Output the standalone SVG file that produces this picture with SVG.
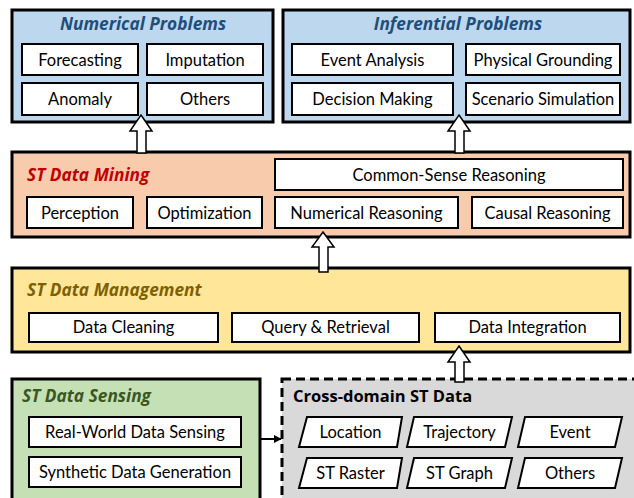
<svg xmlns="http://www.w3.org/2000/svg" width="634" height="498" viewBox="0 0 634 498">
<style>
.outer{stroke:#000;stroke-width:3}
.box{fill:#fff;stroke:#000;stroke-width:2}
.t{font-family:Lato,"Liberation Sans",sans-serif;font-size:16.5px;fill:#000;text-anchor:middle}
.h{font-family:"Open Sans","Liberation Sans",sans-serif;font-size:17.3px;font-weight:bold;font-style:italic}
.arr{fill:#fff;stroke:#000;stroke-width:1.5;stroke-linejoin:miter}
</style>
<defs>
<marker id="ah" viewBox="0 0 10 10" refX="9" refY="5" markerWidth="4" markerHeight="4" orient="auto"><path d="M0,0 L10,5 L0,10 z" fill="#000"/></marker>
</defs>
<rect width="634" height="498" fill="#fff"/>

<g id="numerical-problems">
<rect class="outer" x="12" y="10" width="261" height="112" fill="#BDD7EE"/>
<text class="h" x="143" y="30" fill="#1F4E79" text-anchor="middle">Numerical Problems</text>
<rect class="box" x="22" y="44" width="116" height="31"/><text class="t" x="80" y="65.5">Forecasting</text>
<rect class="box" x="147" y="44" width="116" height="31"/><text class="t" x="205" y="65.5">Imputation</text>
<rect class="box" x="22" y="83" width="116" height="32"/><text class="t" x="80" y="104.5">Anomaly</text>
<rect class="box" x="147" y="83" width="116" height="32"/><text class="t" x="205" y="104.5">Others</text>
</g>

<g id="inferential-problems">
<rect class="outer" x="283" y="10" width="347" height="112" fill="#BDD7EE"/>
<text class="h" x="458" y="30" fill="#1F4E79" text-anchor="middle">Inferential Problems</text>
<rect class="box" x="292" y="44" width="161" height="31"/><text class="t" x="372.5" y="65.5">Event Analysis</text>
<rect class="box" x="466" y="44" width="154" height="31"/><text class="t" x="543" y="65.5">Physical Grounding</text>
<rect class="box" x="292" y="83" width="161" height="32"/><text class="t" x="372.5" y="104.5">Decision Making</text>
<rect class="box" x="466" y="83" width="154" height="32"/><text class="t" x="543" y="104.5">Scenario Simulation</text>
</g>

<g id="st-data-mining">
<rect class="outer" x="12" y="152" width="618" height="85" fill="#F8CBAD"/>
<text class="h" x="27" y="181" fill="#C00000">ST Data Mining</text>
<rect class="box" x="275" y="159" width="348" height="31"/><text class="t" x="449" y="180.5">Common-Sense Reasoning</text>
<rect class="box" x="27" y="197" width="106" height="31"/><text class="t" x="80" y="218.5">Perception</text>
<rect class="box" x="147" y="197" width="115" height="31"/><text class="t" x="204.5" y="218.5">Optimization</text>
<rect class="box" x="275" y="197" width="183" height="31"/><text class="t" x="366.5" y="218.5">Numerical Reasoning</text>
<rect class="box" x="472" y="197" width="151" height="31"/><text class="t" x="547.5" y="218.5">Causal Reasoning</text>
</g>

<g id="st-data-management">
<rect class="outer" x="12" y="268" width="618" height="84" fill="#FFE699"/>
<text class="h" x="27" y="296" fill="#7F6000">ST Data Management</text>
<rect class="box" x="29" y="313" width="189" height="29"/><text class="t" x="123.5" y="333">Data Cleaning</text>
<rect class="box" x="232" y="313" width="187" height="29"/><text class="t" x="325.5" y="333">Query &amp; Retrieval</text>
<rect class="box" x="435" y="313" width="185" height="29"/><text class="t" x="527.5" y="333">Data Integration</text>
</g>

<g id="st-data-sensing">
<rect class="outer" x="12" y="379" width="248" height="125" fill="#C5E0B4"/>
<text class="h" x="22" y="402" fill="#385723">ST Data Sensing</text>
<rect class="box" x="29" y="417" width="212" height="30"/><text class="t" x="135" y="438">Real-World Data Sensing</text>
<rect class="box" x="29" y="457" width="212" height="30"/><text class="t" x="135" y="478">Synthetic Data Generation</text>
</g>

<g id="cross-domain-st-data">
<rect x="282" y="379" width="360" height="125" fill="#D9D9D9" stroke="#000" stroke-width="3" stroke-dasharray="9,5"/>
<text x="293" y="402" font-family="'Open Sans','Liberation Sans',sans-serif" font-size="16.5" font-weight="bold" fill="#000">Cross-domain ST Data</text>
<polygon class="box" points="307,417 402,417 397,447 299,447"/><text class="t" x="350.5" y="438">Location</text>
<polygon class="box" points="414,417 512,417 505,447 407,447"/><text class="t" x="459.5" y="438">Trajectory</text>
<polygon class="box" points="525,417 622,417 615,447 518,447"/><text class="t" x="570" y="438">Event</text>
<polygon class="box" points="307,458 402,458 397,488 299,488"/><text class="t" x="350.5" y="479">ST Raster</text>
<polygon class="box" points="414,458 512,458 505,488 407,488"/><text class="t" x="459.5" y="479">ST Graph</text>
<polygon class="box" points="525,458 622,458 615,488 518,488"/><text class="t" x="570" y="479">Others</text>
</g>

<g id="connectors">
<polygon class="arr" points="141,115 152,131 146,131 146,153 137,153 137,131 130,131"/>
<polygon class="arr" points="459,115 470,131 464,131 464,153 455,153 455,131 448,131"/>
<polygon class="arr" points="323,232 334,247 328,247 328,272 319,272 319,247 312,247"/>
<polygon class="arr" points="459,346 470,362 464,362 464,382 455,382 455,362 448,362"/>
<line x1="261" y1="439" x2="281" y2="439" stroke="#000" stroke-width="2" marker-end="url(#ah)"/>
</g>
</svg>
